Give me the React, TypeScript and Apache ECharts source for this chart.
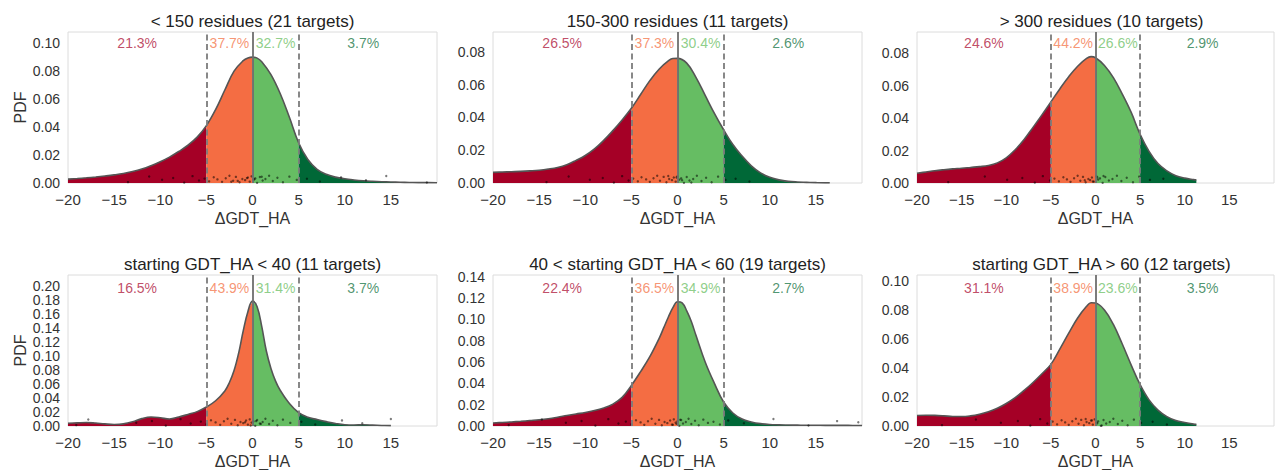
import React, { useEffect, useRef } from "react";
import * as echarts from "echarts";

// ---------- data ----------
const TITLES = [
  "< 150 residues (21 targets)",
  "150-300 residues (11 targets)",
  "> 300 residues (10 targets)",
  "starting GDT_HA < 40 (11 targets)",
  "40 < starting GDT_HA < 60 (19 targets)",
  "starting GDT_HA > 60 (12 targets)",
];

const PERCENTS = [
  ["21.3%", "37.7%", "32.7%", "3.7%"],
  ["26.5%", "37.3%", "30.4%", "2.6%"],
  ["24.6%", "44.2%", "26.6%", "2.9%"],
  ["16.5%", "43.9%", "31.4%", "3.7%"],
  ["22.4%", "36.5%", "34.9%", "2.7%"],
  ["31.1%", "38.9%", "23.6%", "3.5%"],
];
const PERCENT_X = [-12.5, -2.5, 2.5, 12];

const Y_MAX = [0.108, 0.0922, 0.0931, 0.2153, 0.1416, 0.1041];
const Y_STEP = 0.02;
const X_MIN = -20;
const X_MAX = 20;
const X_STEP = 5;
const CUTS = [-5, 0, 5];

const X1 = [-20,-19,-18,-17,-16,-15,-14,-13,-12,-11,-10,-9,-8,-7,-6,-5,-4,-3,-2,-1,-0.5,0,0.5,1,2,3,4,5,6,7,8,9,10,11,12,13,14,15,16,17,18,19,20];
const Y1 = [.0028,.0032,.0037,.0043,.005,.0058,.0068,.0082,.01,.0124,.0152,.0185,.0225,.027,.0328,.041,.0525,.0665,.08,.0875,.0894,.09,.0893,.0868,.0775,.064,.047,.0288,.0168,.0098,.0062,.0042,.003,.0022,.0016,.0012,.0009,.0007,.0005,.0004,.0003,.0003,.0002];

const X2 = [-20,-19,-18,-17,-16,-15,-14,-13,-12,-11,-10,-9,-8,-7,-6,-5,-4,-3,-2,-1,-0.5,0,1,2,3,4,5,6,7,8,9,10,11,12,13,14,15,16,16.5];
const Y2 = [.0065,.0067,.0069,.0071,.0074,.0078,.0085,.0095,.0112,.0138,.0168,.0208,.026,.032,.0385,.0456,.054,.0625,.0695,.0745,.076,.0761,.0732,.0645,.0535,.0425,.0325,.0235,.0165,.0105,.0062,.0035,.0019,.001,.0006,.0004,.0002,.0001,.0001];

const X3 = [-20,-19,-18,-17,-16,-15,-14,-13,-12,-11,-10,-9,-8,-7,-6,-5,-4,-3,-2,-1,-0.5,0,1,2,3,4,5,6,7,8,9,10,11,11.3];
const Y3 = [.006,.0068,.0076,.0082,.0087,.0091,.0096,.0101,.0108,.0124,.0155,.0205,.0268,.0343,.042,.05,.058,.0655,.072,.0768,.0779,.0772,.0725,.065,.0548,.0435,.03,.0195,.012,.0075,.0045,.003,.0021,.0019];

const X4 = [-20,-19,-18,-17,-16,-15,-14,-13,-12,-11,-10,-9,-8,-7,-6,-5,-4,-3,-2.5,-2,-1.5,-1,-0.5,0,0.5,1,1.5,2,2.5,3,4,5,6,7,8,9,10,11,12,13,14,15];
const Y4 = [.004,.0045,.005,.0042,.003,.0022,.003,.006,.0105,.0128,.0118,.01,.0128,.0165,.0205,.027,.036,.05,.062,.079,.104,.136,.163,.178,.17,.142,.107,.082,.064,.051,.032,.019,.0125,.0092,.0062,.0036,.0018,.0015,.0018,.0013,.0008,.0005];

const X5 = [-20,-19,-18,-17,-16,-15,-14,-13,-12,-11,-10,-9,-8,-7,-6,-5,-4,-3,-2,-1.5,-1,-0.5,0,0.5,1,1.5,2,3,4,5,6,7,8,9,10,11,12,13,14,15,16,17,18,19,20];
const Y5 = [.0028,.0033,.0038,.0044,.0051,.0058,.0068,.0082,.0098,.0113,.0127,.0145,.0168,.0205,.0268,.038,.051,.065,.082,.092,.102,.111,.1165,.1155,.108,.098,.085,.06,.04,.0225,.0122,.0065,.0038,.0022,.0014,.0011,.0009,.0008,.0007,.0007,.0006,.0006,.0006,.0005,.0005];

const X6 = [-20,-19,-18,-17,-16,-15,-14,-13,-12,-11,-10,-9,-8,-7,-6,-5,-4,-3,-2,-1,-0.5,0,1,2,3,4,5,6,7,8,9,10,11,11.3];
const Y6 = [.0072,.0074,.0073,.007,.0066,.0065,.007,.0081,.0098,.0122,.0155,.0195,.0245,.03,.036,.0425,.053,.064,.0745,.0825,.085,.0848,.08,.07,.0565,.042,.0285,.018,.011,.0065,.0038,.0024,.0013,.0011];

const CURVE_X = [X1, X2, X3, X4, X5, X6];
const CURVE_Y = [Y1, Y2, Y3, Y4, Y5, Y6];

// rug (observed points, x positions) + vertical jitter fractions
const R1 = [-13.5,-11.2,-9.8,-8.6,-7.4,-6.5,-5.8,-5.2,-4.7,-4.2,-3.8,-3.3,-2.9,-2.5,-2.1,-1.8,-1.4,-1.1,-0.8,-0.5,-0.3,-0.1,0.1,0.3,0.5,0.8,1.1,1.4,1.8,2.2,2.7,3.3,4.0,4.8,5.9,7.3,9.6,12.3,14.5,18.9,-0.6,0.2,-1.6,1.0,-2.3];
const R2 = [-14.2,-11.8,-9.5,-8.1,-6.9,-6.0,-5.3,-4.8,-4.3,-3.9,-3.4,-3.0,-2.6,-2.2,-1.9,-1.5,-1.2,-0.9,-0.6,-0.4,-0.2,0.0,0.2,0.4,0.7,1.0,1.3,1.7,2.1,2.6,3.1,3.7,4.4,5.2,6.3,7.8,-0.1,0.5,-1.0,1.5];
const R3 = [-16.5,-12.4,-9.9,-8.2,-6.8,-5.9,-5.1,-4.6,-4.1,-3.6,-3.2,-2.8,-2.4,-2.0,-1.7,-1.4,-1.1,-0.8,-0.6,-0.4,-0.2,0.1,0.3,0.5,0.8,1.1,1.5,1.9,2.4,2.9,3.5,4.2,4.9,6.1,7.6,-0.3,0.2,-1.2,0.9];
const R4 = [-19.1,-17.8,-12.6,-10.9,-9.4,-7.8,-6.7,-5.6,-5.0,-4.5,-4.0,-3.5,-3.1,-2.7,-2.3,-1.9,-1.6,-1.3,-1.0,-0.7,-0.5,-0.3,-0.1,0.1,0.3,0.5,0.8,1.1,1.4,1.8,2.2,2.7,3.3,4.1,5.3,6.8,9.7,11.9,15.0,-0.2,0.4,-0.8,0.9];
const R5 = [-18.3,-14.7,-12.1,-10.4,-8.9,-7.5,-6.4,-5.6,-5.0,-4.5,-4.0,-3.6,-3.2,-2.8,-2.4,-2.0,-1.7,-1.4,-1.1,-0.8,-0.6,-0.4,-0.2,0.0,0.2,0.4,0.6,0.9,1.2,1.5,1.9,2.3,2.8,3.3,3.9,4.6,5.5,7.2,10.4,14.2,17.3,19.6,-0.1,0.3,-0.5];
const R6 = [-17.2,-13.4,-10.6,-8.7,-7.3,-6.2,-5.4,-4.8,-4.3,-3.8,-3.4,-3.0,-2.6,-2.2,-1.9,-1.6,-1.3,-1.0,-0.7,-0.5,-0.3,-0.1,0.1,0.3,0.6,0.9,1.2,1.6,2.0,2.5,3.0,3.6,4.3,5.1,6.4,8.0,-0.4,0.2,-1.1,0.7];
const RUGS = [R1, R2, R3, R4, R5, R6];
const JITTER = [0.12,0.85,0.43,0.67,0.05,0.91,0.34,0.58,0.22,0.76,0.48,0.15,0.63,0.97,0.29,0.81,0.09,0.54,0.38,0.72,0.18,0.88,0.45,0.61,0.02,0.79,0.33,0.52,0.95,0.26,0.69,0.11,0.84,0.41,0.57,0.2,0.74,0.36,0.93,0.07,0.65,0.49,0.28,0.83,0.16];

// ---------- styling / layout ----------
const FONT = "'Liberation Sans', Arial, Helvetica, sans-serif";
const REGION_COLORS = ["#a50026", "#f46d43", "#66bd63", "#006837"];
const TEXT_COLORS = ["#b0203f", "#f47a50", "#72c26b", "#1f7a4c"];
const GRID_LEFT = [68, 493, 917];
const GRID_TOP = [32, 275];
const GRID_W = 369;
const GRID_H = 151;
const LABEL_FRAC = [0.927, 0.916];

function fmtX(v: number) {
  if (v >= X_MAX - 1e-9) return "";
  if (v < 0) return "\u2212" + Math.abs(v);
  return String(v);
}
function fmtY(v: number) {
  const k = v / Y_STEP;
  if (Math.abs(k - Math.round(k)) > 1e-6) return "";
  return v.toFixed(2);
}

function buildOption() {
  const grid: any[] = [];
  const xAxis: any[] = [];
  const yAxis: any[] = [];
  const series: any[] = [];
  const graphic: any[] = [];

  for (let i = 0; i < 6; i++) {
    const row = Math.floor(i / 3);
    const col = i % 3;
    const left = GRID_LEFT[col];
    const top = GRID_TOP[row];
    grid.push({
      left,
      top,
      width: GRID_W,
      height: GRID_H,
      show: true,
      borderColor: "#dcdcdc",
      borderWidth: 1,
      backgroundColor: "transparent",
    });
    xAxis.push({
      type: "value",
      gridIndex: i,
      min: X_MIN,
      max: X_MAX,
      interval: X_STEP,
      axisLine: { show: false },
      axisTick: { show: false },
      splitLine: { show: false },
      axisLabel: { formatter: fmtX, color: "#333", fontSize: 15, fontFamily: FONT, margin: 9, showMinLabel: true },
      name: "\u0394GDT_HA",
      nameLocation: "middle",
      nameGap: 27,
      nameTextStyle: { color: "#333", fontSize: 16, fontFamily: FONT },
    });
    yAxis.push({
      type: "value",
      gridIndex: i,
      min: 0,
      max: Y_MAX[i],
      interval: Y_STEP,
      axisLine: { show: false },
      axisTick: { show: false },
      splitLine: { show: false },
      axisLabel: {
        formatter: fmtY,
        color: "#333",
        fontSize: 14,
        lineHeight: 11,
        fontFamily: FONT,
        margin: 8,
        showMinLabel: true,
        showMaxLabel: true,
        hideOverlap: false,
      },
      name: col === 0 ? "PDF" : "",
      nameLocation: "middle",
      nameGap: 40,
      nameTextStyle: { color: "#333", fontSize: 16, fontFamily: FONT },
    });

    const xs = CURVE_X[i];
    const ys = CURVE_Y[i];
    const pts = xs.map((x, k) => [x, ys[k]]);
    const bounds = [-Infinity, ...CUTS, Infinity];
    for (let r = 0; r < 4; r++) {
      const seg = pts.filter((p) => p[0] >= bounds[r] && p[0] <= bounds[r + 1]);
      series.push({
        type: "line",
        xAxisIndex: i,
        yAxisIndex: i,
        data: seg,
        smooth: 0.4,
        showSymbol: false,
        symbol: "none",
        lineStyle: { width: 0 },
        areaStyle: { color: REGION_COLORS[r], opacity: 1 },
        silent: true,
        z: 2,
      });
    }
    // outline + reference lines
    series.push({
      type: "line",
      xAxisIndex: i,
      yAxisIndex: i,
      data: pts,
      smooth: 0.4,
      showSymbol: false,
      symbol: "none",
      lineStyle: { color: "#555", width: 1.6 },
      silent: true,
      z: 3,
      markLine: {
        silent: true,
        symbol: ["none", "none"],
        label: { show: false },
        z: 5,
        data: [
          { xAxis: CUTS[0], lineStyle: { color: "#7c7c7c", width: 1.8, type: [6, 3.5] } },
          { xAxis: CUTS[2], lineStyle: { color: "#7c7c7c", width: 1.8, type: [6, 3.5] } },
          { xAxis: CUTS[1], lineStyle: { color: "#6e6e6e", width: 1.8, type: "solid" } },
        ],
      },
    });
    // rug
    const rug = RUGS[i].map((x, k) => [x, JITTER[k % JITTER.length] * Y_MAX[i] * 0.05]);
    series.push({
      type: "scatter",
      xAxisIndex: i,
      yAxisIndex: i,
      data: rug,
      symbol: "circle",
      symbolSize: 2.4,
      itemStyle: { color: "rgba(0,0,0,0.65)" },
      silent: true,
      z: 4,
    });
    // percent labels
    const ly = Y_MAX[i] * LABEL_FRAC[row];
    series.push({
      type: "scatter",
      xAxisIndex: i,
      yAxisIndex: i,
      symbolSize: 1,
      itemStyle: { color: "transparent" },
      silent: true,
      z: 6,
      data: PERCENT_X.map((x, r) => ({
        value: [x, ly],
        label: {
          show: true,
          position: "inside",
          formatter: PERCENTS[i][r],
          color: TEXT_COLORS[r],
          fontSize: 14,
          fontFamily: FONT,
        },
      })),
    });
    // title
    graphic.push({
      type: "text",
      x: left + GRID_W / 2,
      y: top - 11,
      silent: true,
      style: {
        text: TITLES[i],
        fill: "#222",
        font: `17px ${FONT}`,
        fontSize: 17,
        fontFamily: FONT,
        textAlign: "center",
        align: "center",
        textVerticalAlign: "middle",
        verticalAlign: "middle",
      },
    });
  }

  return {
    animation: false,
    backgroundColor: "#ffffff",
    grid,
    xAxis,
    yAxis,
    series,
    graphic,
  };
}

export default function App() {
  const ref = useRef<HTMLDivElement>(null);
  useEffect(() => {
    if (!ref.current) return;
    const chart = echarts.init(ref.current, null, { renderer: "svg" });
    chart.setOption(buildOption() as any);
    return () => chart.dispose();
  }, []);
  return (
    <div
      ref={ref}
      style={{ position: "absolute", left: 0, top: 0, width: 1277, height: 470, overflow: "hidden" }}
    />
  );
}
